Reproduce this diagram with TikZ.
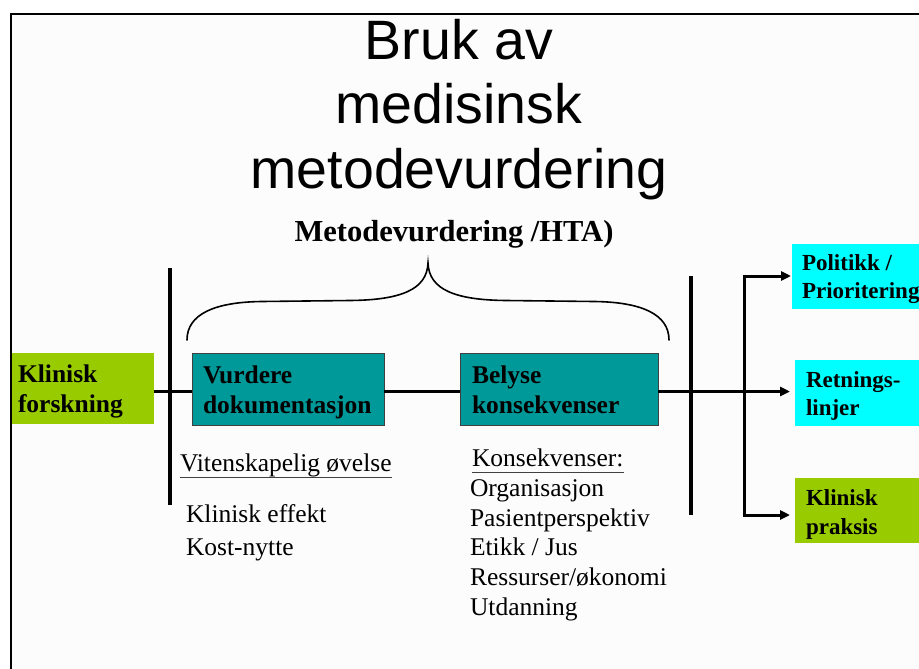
\documentclass[tikz,border=0pt]{standalone}
\usepackage{fontspec}
\setmainfont{Liberation Serif}
\newfontfamily\arialfont{Liberation Sans}
\usetikzlibrary{arrows.meta}
\definecolor{limec}{HTML}{99CC00}
\definecolor{tealc}{HTML}{009999}
\definecolor{cyanc}{HTML}{00FFFF}
\definecolor{bgc}{HTML}{FCFCFC}
\definecolor{edgec}{HTML}{404040}
\begin{document}
\begin{tikzpicture}[x=1pt,y=-1pt,
  every node/.style={inner sep=0pt, outer sep=0pt},
  ttl/.style={anchor=base, font=\arialfont\fontsize{55.5}{60}\selectfont},
  subt/.style={anchor=base, font=\bfseries\fontsize{30.5}{33}\selectfont},
  btxt/.style={anchor=base west, font=\bfseries\fontsize{25.5}{28}\selectfont},
  rtxt/.style={anchor=base west, font=\bfseries\fontsize{23}{26}\selectfont},
  ltxt/.style={anchor=base west, font=\fontsize{25.5}{28}\selectfont},
  gbox/.style={fill=limec, anchor=north west},
  tbox/.style={fill=tealc, draw=edgec, line width=0.8pt, anchor=north west},
  cbox/.style={fill=cyanc, anchor=north west},
  conn/.style={line width=3.4pt},
  barline/.style={line width=4pt},
  branch/.style={line width=3pt},
  arr/.style={line width=3pt, -{Triangle[length=10pt,width=9pt]}},
  ul/.style={line width=1pt, draw=edgec},
  bracel/.style={line width=1.6pt, line cap=round}
]
\path[use as bounding box, clip] (0,0) rectangle (919,669);
\fill[bgc] (11,14) rectangle (919,669);
\draw[line width=2pt] (11,669) -- (11,14) -- (919,14);

% title
\node[ttl] (t1) at (459,60) {Bruk av};
\node[ttl] (t2) at (459,124) {medisinsk};
\node[ttl] (t3) at (459,188.5) {metodevurdering};
\node[subt] (st) at (454,241) {Metodevurdering /HTA)};

% brace
\draw[bracel] (187,340) .. controls (187,314) and (215,302) .. (262,301.5)
  -- (350,300.5) .. controls (400,300) and (427,290) .. (428,263)
  .. controls (429,290) and (456,300) .. (506,300.5)
  -- (594,301.5) .. controls (641,302) and (669,314) .. (669,340);

% boxes
\node[gbox, minimum width=142pt, minimum height=71.5pt] (kf) at (12,352.5) {};
\node[tbox, minimum width=192pt, minimum height=72pt] (vd) at (192,353) {};
\node[tbox, minimum width=198pt, minimum height=72pt] (bk) at (460,353) {};
\node[cbox, minimum width=140pt, minimum height=65pt] (pp) at (792,244) {};
\node[cbox, minimum width=130pt, minimum height=66pt] (rl) at (795,360) {};
\node[gbox, minimum width=130pt, minimum height=65pt] (kp) at (795,478) {};

% box texts
\node[btxt] (kf1) at (18,382) {Klinisk};
\node[btxt] (kf2) at (18,412) {forskning};
\node[btxt] (vd1) at (203,383) {Vurdere};
\node[btxt] (vd2) at (203,413) {dokumentasjon};
\node[btxt] (bk1) at (472,383) {Belyse};
\node[btxt] (bk2) at (472,413) {konsekvenser};
\node[rtxt] (pp1) at (802,270) {Politikk /};
\node[rtxt] (pp2) at (802,298) {Prioritering};
\node[rtxt] (rl1) at (806,387) {Retnings-};
\node[rtxt] (rl2) at (806,415) {linjer};
\node[rtxt] (kp1) at (806,505) {Klinisk};
\node[rtxt] (kp2) at (806,534) {praksis};

% connectors
\coordinate (m) at (0,391.5);
\coordinate (lb1) at (169.5,268);
\coordinate (lb2) at (169.5,505);
\coordinate (rb1) at (690.5,276);
\coordinate (rb2) at (690.5,515);
\coordinate (br) at (744,391.5);
\coordinate (bt) at (744,276);
\coordinate (bb) at (744,515);
\draw[barline] (lb1) -- (lb2);
\draw[barline] (rb1) -- (rb2);
\draw[conn] (kf.east |- m) -- (vd.west |- m);
\draw[conn] (vd.east |- m) -- (bk.west |- m);
\draw[conn] (bk.east |- m) -- (br);
\draw[branch] ([yshift=1.5pt]bt) -- ([yshift=-1.5pt]bb);
\draw[arr] ([xshift=-1.5pt]bt) -- ([xshift=-1pt]pp.west |- bt);
\draw[arr] (br) -- ([xshift=-5pt]rl.west |- br);
\draw[arr] ([xshift=-1.5pt]bb) -- ([xshift=-5pt]kp.west |- bb);

% lists
\node[ltxt] (vit) at (180,471.5) {Vitenskapelig øvelse};
\draw[ul] ([yshift=-5.5pt]vit.base west) -- ([yshift=-5.5pt]vit.base east);
\node[ltxt] (ke) at (186,522) {Klinisk effekt};
\node[ltxt] (kn) at (186,555) {Kost-nytte};
\node[ltxt] (kons) at (472,466.5) {Konsekvenser:};
\draw[ul] ([yshift=-5.5pt]kons.base west) -- ([yshift=-5.5pt]kons.base east);
\node[ltxt] (l1) at (470,496.5) {Organisasjon};
\node[ltxt] (l2) at (470,526) {Pasientperspektiv};
\node[ltxt] (l3) at (470,555.5) {Etikk / Jus};
\node[ltxt] (l4) at (470,585) {Ressurser/økonomi};
\node[ltxt] (l5) at (470,615) {Utdanning};
\end{tikzpicture}
\end{document}
